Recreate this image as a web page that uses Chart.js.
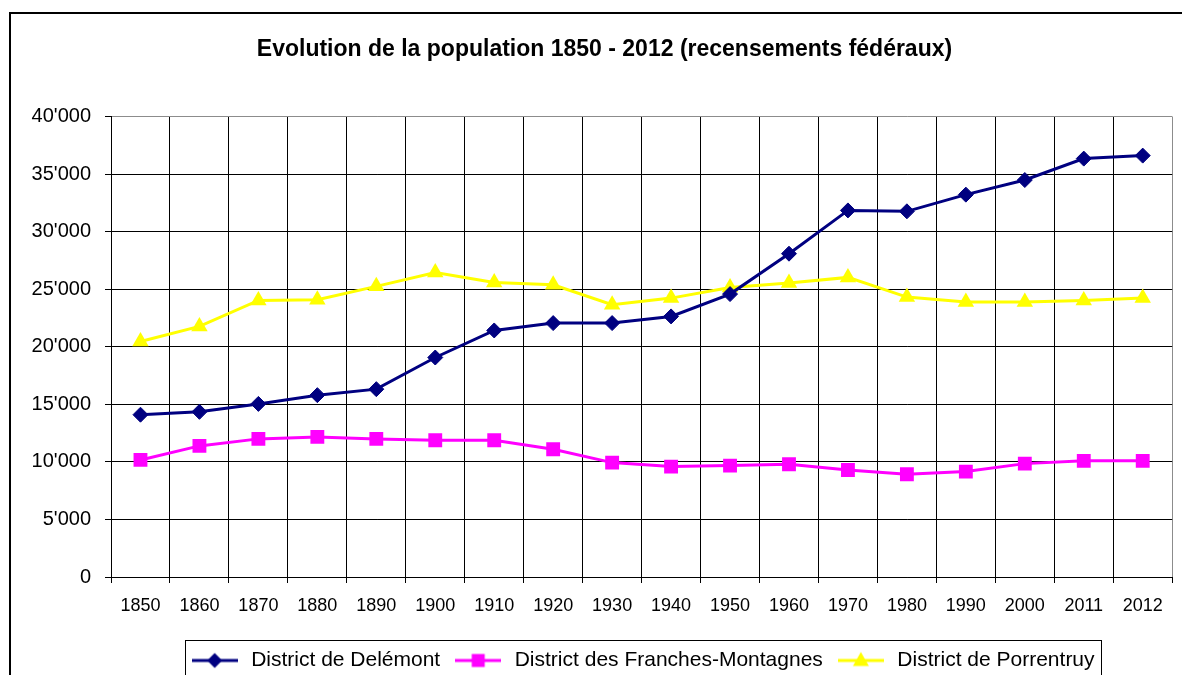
<!DOCTYPE html>
<html>
<head>
<meta charset="utf-8">
<title>Evolution de la population 1850 - 2012</title>
<script src="https://cdn.jsdelivr.net/npm/chart.js@4.4.1/dist/chart.umd.min.js"></script>
<style>
  html, body { margin: 0; padding: 0; background: #fff; overflow: hidden; }
  #wrap { position: relative; width: 1182px; height: 681px; }
</style>
</head>
<body>
<div id="wrap"><canvas id="popChart"></canvas></div>
<script>
'use strict';

// ***** DATA *****
const years = ['1850', '1860', '1870', '1880', '1890', '1900', '1910', '1920', '1930',
  '1940', '1950', '1960', '1970', '1980', '1990', '2000', '2011', '2012'];

const delemont = [14100, 14350, 15040, 15800, 16320, 19070, 21420, 22060, 22060,
  22640, 24580, 28090, 31850, 31770, 33220, 34490, 36350, 36610];

const francheMontagnes = [10170, 11390, 12000, 12170, 12000, 11880, 11880, 11100, 9940,
  9590, 9680, 9800, 9300, 8930, 9160, 9850, 10090, 10090];

const porrentruy = [20460, 21770, 24030, 24090, 25250, 26460, 25590, 25390, 23650,
  24230, 25160, 25540, 26030, 24320, 23890, 23890, 24030, 24230];

const yTickLabels = ['0', "5'000", "10'000", "15'000", "20'000", "25'000", "30'000", "35'000", "40'000"];

const seriesNames = ['District de Delémont', 'District des Franches-Montagnes', 'District de Porrentruy'];

const FONT = "'Liberation Sans', Arial, sans-serif";

// ***** LEGEND ICONS (line + marker) *****
function makeIcon(color, shape) {
  let c = document.createElement('canvas');
  c.width = 46;
  c.height = 20;
  let g = c.getContext('2d');
  g.strokeStyle = color;
  g.lineWidth = 3;
  g.beginPath();
  g.moveTo(0, 10);
  g.lineTo(46, 10);
  g.stroke();
  g.fillStyle = color;
  g.beginPath();
  if (shape === 'diamond') {
    g.moveTo(23, 2.5); g.lineTo(30.5, 10); g.lineTo(23, 17.5); g.lineTo(15.5, 10);
  } else if (shape === 'square') {
    g.rect(16.5, 3.5, 13, 13);
  } else {
    g.moveTo(23, 1.5); g.lineTo(31, 15.5); g.lineTo(15, 15.5);
  }
  g.closePath();
  g.fill();
  return c;
}

const legendIcons = [
  makeIcon('#000080', 'diamond'),
  makeIcon('#ff00ff', 'square'),
  makeIcon('#ffff00', 'triangle')
];

// ***** PLUGINS *****
const framePlugin = {
  id: 'frame',
  afterDraw(chart) {
    let ctx = chart.ctx;
    ctx.save();
    // outer chart border
    ctx.strokeStyle = '#000';
    ctx.lineWidth = 2;
    ctx.strokeRect(10, 13, 1300, 800);
    // legend box
    let lg = chart.legend;
    let hb = lg.legendHitBoxes;
    if (hb && hb.length) {
      let last = hb[hb.length - 1];
      let left = hb[0].left - 4;
      let right = last.left + last.width + 6;
      ctx.strokeStyle = '#000';
      ctx.lineWidth = 1;
      ctx.strokeRect(Math.round(left) + 0.5, Math.round(lg.top + 2) + 0.5, Math.round(right - left), 80);
    }
    ctx.restore();
  }
};

// ***** CHART *****
function gridColorY(c) {
  return (c.tick && c.tick.value === 40000) ? '#8c8c8c' : '#000';
}

function gridColorX(c) {
  return c.tick ? '#000' : '#8c8c8c';
}

let ctx = document.getElementById('popChart').getContext('2d');

let chartObject = {
  type: 'line',
  data: {
    labels: years,
    datasets: [{
      label: seriesNames[0],
      data: delemont,
      borderColor: '#000080',
      backgroundColor: '#000080',
      borderWidth: 3,
      pointStyle: 'rectRot',
      pointRadius: 7.5,
      pointBorderWidth: 1
    },
    {
      label: seriesNames[1],
      data: francheMontagnes,
      borderColor: '#ff00ff',
      backgroundColor: '#ff00ff',
      borderWidth: 3,
      pointStyle: 'rect',
      pointRadius: 9.8,
      pointBorderWidth: 0
    },
    {
      label: seriesNames[2],
      data: porrentruy,
      borderColor: '#ffff00',
      backgroundColor: '#ffff00',
      borderWidth: 3,
      pointStyle: 'triangle',
      pointRadius: 9.5,
      pointBorderWidth: 0
    }
    ]
  },
  options: {
    responsive: true,
    maintainAspectRatio: false,
    animation: false,
    layout: {
      padding: { left: 28, right: 1, top: 0, bottom: 0 }
    },
    elements: {
      line: { tension: 0 }
    },
    scales: {
      x: {
        offset: true,
        grid: {
          offset: true,
          color: gridColorX,
          lineWidth: 1,
          tickLength: 6,
          tickColor: '#000'
        },
        border: { color: '#000', width: 1 },
        ticks: {
          color: '#000',
          font: { family: FONT, size: 18 },
          padding: 12,
          maxRotation: 0,
          autoSkip: false
        },
        afterFit: function (scale) { scale.height = 61; }
      },
      y: {
        min: 0,
        max: 40000,
        grid: {
          color: gridColorY,
          lineWidth: 1,
          tickLength: 6,
          tickColor: '#000'
        },
        border: { color: '#000', width: 1 },
        ticks: {
          stepSize: 5000,
          color: '#000',
          font: { family: FONT, size: 20 },
          padding: 14,
          callback: function (value, index) { return yTickLabels[index]; }
        },
        afterFit: function (scale) { scale.width = 83; }
      }
    },
    plugins: {
      title: {
        display: true,
        text: 'Evolution de la population 1850 - 2012 (recensements fédéraux)',
        color: '#000',
        font: { family: FONT, size: 23, weight: 'bold' },
        padding: { top: 36, bottom: 53 }
      },
      legend: {
        position: 'bottom',
        fullSize: false,
        labels: {
          usePointStyle: true,
          pointStyleWidth: 52,
          padding: 12,
          color: '#000',
          font: { family: FONT, size: 21 },
          generateLabels: function (chart) {
            return chart.data.datasets.map(function (ds, i) {
              return {
                text: ds.label,
                pointStyle: legendIcons[i],
                fillStyle: ds.backgroundColor,
                strokeStyle: ds.borderColor,
                lineWidth: 0,
                hidden: false,
                datasetIndex: i,
                fontColor: '#000'
              };
            });
          }
        }
      },
      tooltip: { enabled: false }
    }
  },
  plugins: [framePlugin]
};

new Chart(ctx, chartObject);
</script>
</body>
</html>
